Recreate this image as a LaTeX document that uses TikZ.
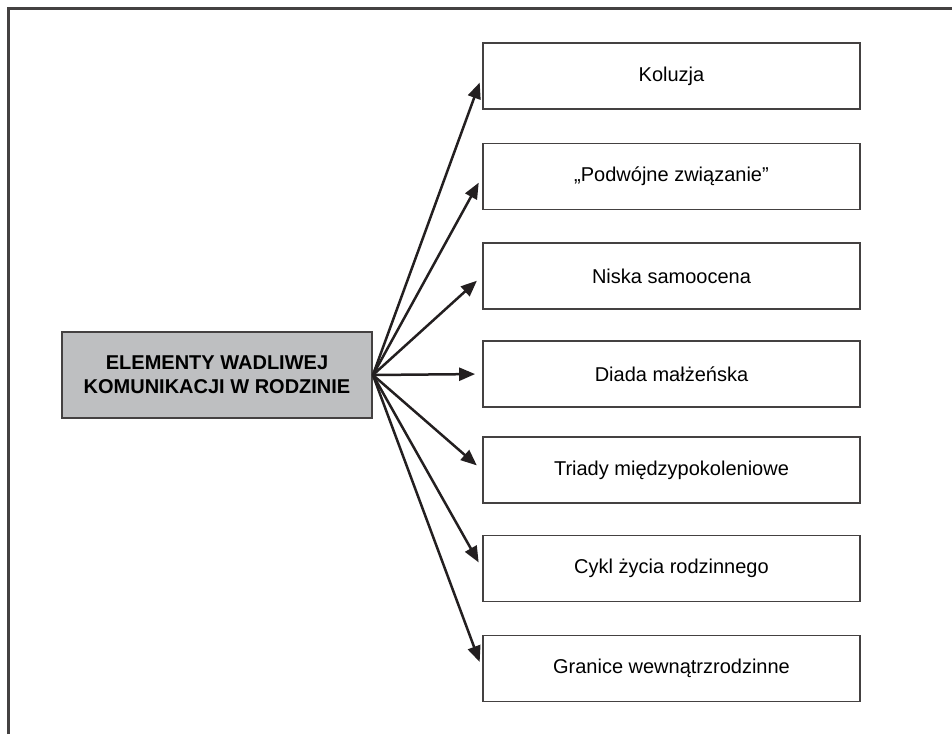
\documentclass[tikz,border=0pt]{standalone}
\usepackage{fontspec}
\setmainfont{Liberation Sans}
\usetikzlibrary{arrows.meta}
\definecolor{boxgray}{RGB}{190,191,193}
\definecolor{ink}{RGB}{35,31,32}

\begin{document}
\begin{tikzpicture}[x=1pt,y=-1pt]
\useasboundingbox (0,0) rectangle (952,734);

%Frame
\draw[line width=2.5pt, draw=ink!85] (8.5,734) -- (8.5,8.5) -- (952,8.5);

\begin{scope}[every node/.style={rectangle,draw=ink!85,line width=1.8pt,inner sep=0pt,font=\fontsize{20}{24}\selectfont}]
	%Main box
	\node[fill=boxgray, minimum width=310pt, minimum height=86pt, align=center, font=\bfseries\fontsize{20}{24}\selectfont] (root) at (217,375) {ELEMENTY WADLIWEJ\\KOMUNIKACJI W RODZINIE};
\end{scope}

\begin{scope}[every node/.style={rectangle,draw=ink!85,line width=1.8pt,minimum width=377pt,minimum height=66pt,inner sep=0pt,font=\fontsize{20}{24}\selectfont}]
	%Elements
	\node (koluzja) at (671.5, 76) {Koluzja};
	\node (wiazanie) at (671.5, 176.5) {„Podwójne związanie”};
	\node (samoocena) at (671.5, 276) {Niska samoocena};
	\node (diada) at (671.5, 374) {Diada małżeńska};
	\node (triady) at (671.5, 470) {Triady międzypokoleniowe};
	\node (cykl) at (671.5, 568.5) {Cykl życia rodzinnego};
	\node (granice) at (671.5, 668.5) {Granice wewnątrzrodzinne};
\end{scope}

\begin{scope}[style={line width=2.5pt,draw=ink}]
	%Arrows
	\path [-{Triangle[length=16pt,width=13pt]}, shorten >=7pt] (root.east) edge (koluzja.west);
	\path [-{Triangle[length=16pt,width=13pt]}, shorten >=7pt] (root.east) edge (wiazanie.west);
	\path [-{Triangle[length=16pt,width=13pt]}, shorten >=7pt] (root.east) edge (samoocena.west);
	\path [-{Triangle[length=16pt,width=13pt]}, shorten >=7pt] (root.east) edge (diada.west);
	\path [-{Triangle[length=16pt,width=13pt]}, shorten >=7pt] (root.east) edge (triady.west);
	\path [-{Triangle[length=16pt,width=13pt]}, shorten >=7pt] (root.east) edge (cykl.west);
	\path [-{Triangle[length=16pt,width=13pt]}, shorten >=7pt] (root.east) edge (granice.west);
\end{scope}

\end{tikzpicture}
\end{document}
